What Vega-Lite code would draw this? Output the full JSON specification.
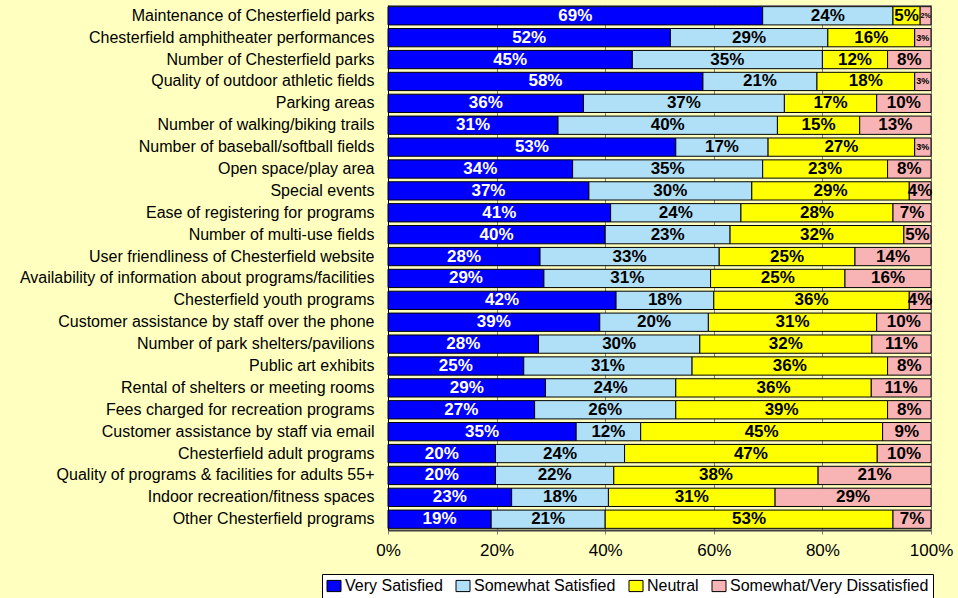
{
  "$schema": "https://vega.github.io/schema/vega-lite/v6.json",
  "width": 543,
  "height": 525,
  "autosize": {"type": "none"},
  "padding": {"left": 388, "top": 5, "right": 27, "bottom": 68},
  "background": "#FFFFC0",
  "config": {
    "view": {"stroke": "#808080", "fill": "#FFFFC0"},
    "font": "Liberation Sans"
  },
  "data": {
    "values": [
      {"q": "Maintenance of Chesterfield parks", "r": "Very Satisfied", "o": 1, "p": 0.69},
      {"q": "Maintenance of Chesterfield parks", "r": "Somewhat Satisfied", "o": 2, "p": 0.24},
      {"q": "Maintenance of Chesterfield parks", "r": "Neutral", "o": 3, "p": 0.05},
      {"q": "Maintenance of Chesterfield parks", "r": "Somewhat/Very Dissatisfied", "o": 4, "p": 0.02},
      {"q": "Chesterfield amphitheater performances", "r": "Very Satisfied", "o": 1, "p": 0.52},
      {"q": "Chesterfield amphitheater performances", "r": "Somewhat Satisfied", "o": 2, "p": 0.29},
      {"q": "Chesterfield amphitheater performances", "r": "Neutral", "o": 3, "p": 0.16},
      {"q": "Chesterfield amphitheater performances", "r": "Somewhat/Very Dissatisfied", "o": 4, "p": 0.03},
      {"q": "Number of Chesterfield parks", "r": "Very Satisfied", "o": 1, "p": 0.45},
      {"q": "Number of Chesterfield parks", "r": "Somewhat Satisfied", "o": 2, "p": 0.35},
      {"q": "Number of Chesterfield parks", "r": "Neutral", "o": 3, "p": 0.12},
      {"q": "Number of Chesterfield parks", "r": "Somewhat/Very Dissatisfied", "o": 4, "p": 0.08},
      {"q": "Quality of outdoor athletic fields", "r": "Very Satisfied", "o": 1, "p": 0.58},
      {"q": "Quality of outdoor athletic fields", "r": "Somewhat Satisfied", "o": 2, "p": 0.21},
      {"q": "Quality of outdoor athletic fields", "r": "Neutral", "o": 3, "p": 0.18},
      {"q": "Quality of outdoor athletic fields", "r": "Somewhat/Very Dissatisfied", "o": 4, "p": 0.03},
      {"q": "Parking areas", "r": "Very Satisfied", "o": 1, "p": 0.36},
      {"q": "Parking areas", "r": "Somewhat Satisfied", "o": 2, "p": 0.37},
      {"q": "Parking areas", "r": "Neutral", "o": 3, "p": 0.17},
      {"q": "Parking areas", "r": "Somewhat/Very Dissatisfied", "o": 4, "p": 0.10},
      {"q": "Number of walking/biking trails", "r": "Very Satisfied", "o": 1, "p": 0.31},
      {"q": "Number of walking/biking trails", "r": "Somewhat Satisfied", "o": 2, "p": 0.40},
      {"q": "Number of walking/biking trails", "r": "Neutral", "o": 3, "p": 0.15},
      {"q": "Number of walking/biking trails", "r": "Somewhat/Very Dissatisfied", "o": 4, "p": 0.13},
      {"q": "Number of baseball/softball fields", "r": "Very Satisfied", "o": 1, "p": 0.53},
      {"q": "Number of baseball/softball fields", "r": "Somewhat Satisfied", "o": 2, "p": 0.17},
      {"q": "Number of baseball/softball fields", "r": "Neutral", "o": 3, "p": 0.27},
      {"q": "Number of baseball/softball fields", "r": "Somewhat/Very Dissatisfied", "o": 4, "p": 0.03},
      {"q": "Open space/play area", "r": "Very Satisfied", "o": 1, "p": 0.34},
      {"q": "Open space/play area", "r": "Somewhat Satisfied", "o": 2, "p": 0.35},
      {"q": "Open space/play area", "r": "Neutral", "o": 3, "p": 0.23},
      {"q": "Open space/play area", "r": "Somewhat/Very Dissatisfied", "o": 4, "p": 0.08},
      {"q": "Special events", "r": "Very Satisfied", "o": 1, "p": 0.37},
      {"q": "Special events", "r": "Somewhat Satisfied", "o": 2, "p": 0.30},
      {"q": "Special events", "r": "Neutral", "o": 3, "p": 0.29},
      {"q": "Special events", "r": "Somewhat/Very Dissatisfied", "o": 4, "p": 0.04},
      {"q": "Ease of registering for programs", "r": "Very Satisfied", "o": 1, "p": 0.41},
      {"q": "Ease of registering for programs", "r": "Somewhat Satisfied", "o": 2, "p": 0.24},
      {"q": "Ease of registering for programs", "r": "Neutral", "o": 3, "p": 0.28},
      {"q": "Ease of registering for programs", "r": "Somewhat/Very Dissatisfied", "o": 4, "p": 0.07},
      {"q": "Number of multi-use fields", "r": "Very Satisfied", "o": 1, "p": 0.40},
      {"q": "Number of multi-use fields", "r": "Somewhat Satisfied", "o": 2, "p": 0.23},
      {"q": "Number of multi-use fields", "r": "Neutral", "o": 3, "p": 0.32},
      {"q": "Number of multi-use fields", "r": "Somewhat/Very Dissatisfied", "o": 4, "p": 0.05},
      {"q": "User friendliness of Chesterfield website", "r": "Very Satisfied", "o": 1, "p": 0.28},
      {"q": "User friendliness of Chesterfield website", "r": "Somewhat Satisfied", "o": 2, "p": 0.33},
      {"q": "User friendliness of Chesterfield website", "r": "Neutral", "o": 3, "p": 0.25},
      {"q": "User friendliness of Chesterfield website", "r": "Somewhat/Very Dissatisfied", "o": 4, "p": 0.14},
      {"q": "Availability of information about programs/facilities", "r": "Very Satisfied", "o": 1, "p": 0.29},
      {"q": "Availability of information about programs/facilities", "r": "Somewhat Satisfied", "o": 2, "p": 0.31},
      {"q": "Availability of information about programs/facilities", "r": "Neutral", "o": 3, "p": 0.25},
      {"q": "Availability of information about programs/facilities", "r": "Somewhat/Very Dissatisfied", "o": 4, "p": 0.16},
      {"q": "Chesterfield youth programs", "r": "Very Satisfied", "o": 1, "p": 0.42},
      {"q": "Chesterfield youth programs", "r": "Somewhat Satisfied", "o": 2, "p": 0.18},
      {"q": "Chesterfield youth programs", "r": "Neutral", "o": 3, "p": 0.36},
      {"q": "Chesterfield youth programs", "r": "Somewhat/Very Dissatisfied", "o": 4, "p": 0.04},
      {"q": "Customer assistance by staff over the phone", "r": "Very Satisfied", "o": 1, "p": 0.39},
      {"q": "Customer assistance by staff over the phone", "r": "Somewhat Satisfied", "o": 2, "p": 0.20},
      {"q": "Customer assistance by staff over the phone", "r": "Neutral", "o": 3, "p": 0.31},
      {"q": "Customer assistance by staff over the phone", "r": "Somewhat/Very Dissatisfied", "o": 4, "p": 0.10},
      {"q": "Number of park shelters/pavilions", "r": "Very Satisfied", "o": 1, "p": 0.28},
      {"q": "Number of park shelters/pavilions", "r": "Somewhat Satisfied", "o": 2, "p": 0.30},
      {"q": "Number of park shelters/pavilions", "r": "Neutral", "o": 3, "p": 0.32},
      {"q": "Number of park shelters/pavilions", "r": "Somewhat/Very Dissatisfied", "o": 4, "p": 0.11},
      {"q": "Public art exhibits", "r": "Very Satisfied", "o": 1, "p": 0.25},
      {"q": "Public art exhibits", "r": "Somewhat Satisfied", "o": 2, "p": 0.31},
      {"q": "Public art exhibits", "r": "Neutral", "o": 3, "p": 0.36},
      {"q": "Public art exhibits", "r": "Somewhat/Very Dissatisfied", "o": 4, "p": 0.08},
      {"q": "Rental of shelters or meeting rooms", "r": "Very Satisfied", "o": 1, "p": 0.29},
      {"q": "Rental of shelters or meeting rooms", "r": "Somewhat Satisfied", "o": 2, "p": 0.24},
      {"q": "Rental of shelters or meeting rooms", "r": "Neutral", "o": 3, "p": 0.36},
      {"q": "Rental of shelters or meeting rooms", "r": "Somewhat/Very Dissatisfied", "o": 4, "p": 0.11},
      {"q": "Fees charged for recreation programs", "r": "Very Satisfied", "o": 1, "p": 0.27},
      {"q": "Fees charged for recreation programs", "r": "Somewhat Satisfied", "o": 2, "p": 0.26},
      {"q": "Fees charged for recreation programs", "r": "Neutral", "o": 3, "p": 0.39},
      {"q": "Fees charged for recreation programs", "r": "Somewhat/Very Dissatisfied", "o": 4, "p": 0.08},
      {"q": "Customer assistance by staff via email", "r": "Very Satisfied", "o": 1, "p": 0.35},
      {"q": "Customer assistance by staff via email", "r": "Somewhat Satisfied", "o": 2, "p": 0.12},
      {"q": "Customer assistance by staff via email", "r": "Neutral", "o": 3, "p": 0.45},
      {"q": "Customer assistance by staff via email", "r": "Somewhat/Very Dissatisfied", "o": 4, "p": 0.09},
      {"q": "Chesterfield adult programs", "r": "Very Satisfied", "o": 1, "p": 0.20},
      {"q": "Chesterfield adult programs", "r": "Somewhat Satisfied", "o": 2, "p": 0.24},
      {"q": "Chesterfield adult programs", "r": "Neutral", "o": 3, "p": 0.47},
      {"q": "Chesterfield adult programs", "r": "Somewhat/Very Dissatisfied", "o": 4, "p": 0.10},
      {"q": "Quality of programs & facilities for adults 55+", "r": "Very Satisfied", "o": 1, "p": 0.20},
      {"q": "Quality of programs & facilities for adults 55+", "r": "Somewhat Satisfied", "o": 2, "p": 0.22},
      {"q": "Quality of programs & facilities for adults 55+", "r": "Neutral", "o": 3, "p": 0.38},
      {"q": "Quality of programs & facilities for adults 55+", "r": "Somewhat/Very Dissatisfied", "o": 4, "p": 0.21},
      {"q": "Indoor recreation/fitness spaces", "r": "Very Satisfied", "o": 1, "p": 0.23},
      {"q": "Indoor recreation/fitness spaces", "r": "Somewhat Satisfied", "o": 2, "p": 0.18},
      {"q": "Indoor recreation/fitness spaces", "r": "Neutral", "o": 3, "p": 0.31},
      {"q": "Indoor recreation/fitness spaces", "r": "Somewhat/Very Dissatisfied", "o": 4, "p": 0.29},
      {"q": "Other Chesterfield programs", "r": "Very Satisfied", "o": 1, "p": 0.19},
      {"q": "Other Chesterfield programs", "r": "Somewhat Satisfied", "o": 2, "p": 0.21},
      {"q": "Other Chesterfield programs", "r": "Neutral", "o": 3, "p": 0.53},
      {"q": "Other Chesterfield programs", "r": "Somewhat/Very Dissatisfied", "o": 4, "p": 0.07}
    ]
  },
  "encoding": {
    "y": {
      "field": "q",
      "type": "nominal",
      "sort": null,
      "title": null,
      "scale": {"paddingInner": 0.165, "paddingOuter": 0.075},
      "axis": {
        "labelFontSize": 16,
        "labelColor": "#000000",
        "ticks": false,
        "labelPadding": 14,
        "domainColor": "#000000",
        "labelLimit": 400
      }
    }
  },
  "layer": [
    {
      "mark": {"type": "bar", "stroke": "#000000", "strokeWidth": 1},
      "encoding": {
        "x": {
          "field": "p",
          "type": "quantitative",
          "stack": "normalize",
          "title": null,
          "scale": {"domain": [0, 1]},
          "axis": {
            "format": ".0%",
            "values": [0, 0.2, 0.4, 0.6, 0.8, 1],
            "grid": true,
            "gridColor": "#808080",
            "tickColor": "#808080",
            "tickSize": 4,
            "labelFontSize": 17,
            "labelColor": "#000000",
            "labelPadding": 8,
            "domainColor": "#404040",
            "domainWidth": 2,
            "labelFlush": false
          }
        },
        "color": {
          "field": "r",
          "type": "nominal",
          "sort": ["Very Satisfied", "Somewhat Satisfied", "Neutral", "Somewhat/Very Dissatisfied"],
          "scale": {
            "domain": ["Very Satisfied", "Somewhat Satisfied", "Neutral", "Somewhat/Very Dissatisfied"],
            "range": ["#0000FF", "#B0E0F8", "#FFFF00", "#F8B4B4"]
          },
          "legend": {
            "title": null,
            "orient": "none",
            "direction": "horizontal",
            "legendX": -66,
            "legendY": 569,
            "padding": 4,
            "fillColor": "#FFFFFF",
            "strokeColor": "#000000",
            "labelFontSize": 16,
            "labelColor": "#000000",
            "labelLimit": 400,
            "labelOffset": 3,
            "columnPadding": 11,
            "symbolType": "M-1,-0.8L1,-0.8L1,0.8L-1,0.8Z",
            "symbolSize": 196,
            "symbolStrokeColor": "#000000",
            "symbolStrokeWidth": 1,
            "symbolOpacity": 1
          }
        },
        "order": {"field": "o", "type": "quantitative"}
      }
    },
    {
      "mark": {"type": "text", "fontWeight": "bold", "fontSize": 17},
      "encoding": {
        "x": {"field": "p", "type": "quantitative", "stack": "normalize", "bandPosition": 0.5},
        "detail": {"field": "r"},
        "order": {"field": "o", "type": "quantitative"},
        "text": {"field": "p", "type": "quantitative", "format": ".0%"},
        "color": {
          "condition": {"test": "datum.r === 'Very Satisfied'", "value": "#FFFFFF"},
          "value": "#000000"
        },
        "size": {
          "condition": [
            {"test": "datum.p <= 0.02", "value": 7},
            {"test": "datum.p <= 0.03", "value": 9}
          ],
          "value": 17
        }
      }
    }
  ]
}
